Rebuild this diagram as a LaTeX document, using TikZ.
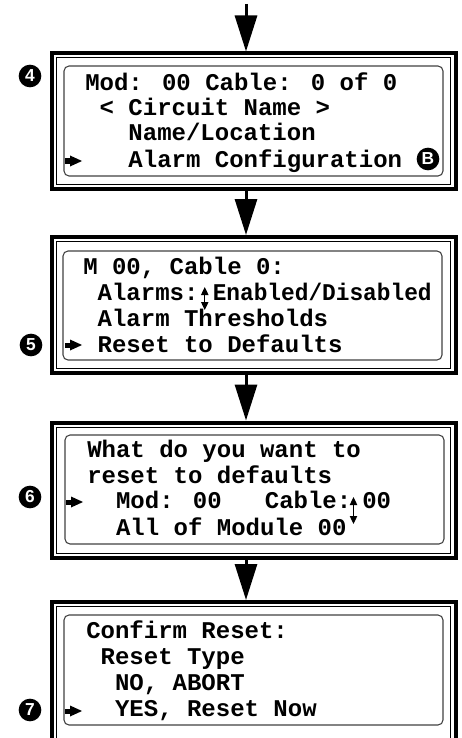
\documentclass[tikz,border=0pt]{standalone}
\usepackage{fontspec}
\newfontfamily\lcdfont{Liberation Mono}
\newfontfamily\badgefont{Liberation Sans}
\usetikzlibrary{arrows.meta,fit}
\tikzset{
  frame/.style={draw, line width=3pt, inner sep=0pt},
  thinframe/.style={draw, line width=0.75pt},
  lcd/.style={draw=black!75, line width=0.8pt, rounded corners=3.75pt},
  flow/.style={line width=2.25pt, -{Triangle[length=27pt,width=16.5pt]}},
  updown/.style={line width=0.9pt, {Triangle[length=6pt,width=5.5pt]}-{Triangle[length=6pt,width=5.5pt]}},
  txt/.style={anchor=base west, inner sep=0pt, font=\lcdfont\bfseries\fontsize{18}{18}\selectfont},
  badge/.style={circle, fill=black, text=white, inner sep=0pt, minimum size=17pt,
    font=\badgefont\bfseries\fontsize{13}{13}\selectfont},
  pointer/.pic={
    \fill (0,-2.5) rectangle (7,2.5);
    \fill (5,-5.5) -- (17,0) -- (5,5.5) -- cycle;
  }
}
\begin{document}
\begin{tikzpicture}[x=0.75pt, y=-0.75pt]
\useasboundingbox (0,0) rectangle (461,738);
\begin{scope}
\clip (0,0) rectangle (461,738);

% frames
\node[frame, fit={(51.5,53.5) (455.5,189)}] (b4) {};
\node[frame, fit={(51.5,237) (455.5,373)}] (b5) {};
\node[frame, fit={(51.5,422.5) (455.5,558)}] (b6) {};
\node[frame, fit={(51.5,602) (455.5,760)}] (b7) {};

\draw[thinframe] (56.5,58) rectangle (450.5,184.5);
\draw[thinframe] (56.5,241.5) rectangle (450.5,368.5);
\draw[thinframe] (56.5,427) rectangle (450.5,553.5);
\draw[thinframe] (56.5,750) |- (450.5,606.5) -- (450.5,750);

\draw[lcd] (64,66) rectangle (443,176);
\draw[lcd] (63,251) rectangle (442,360);
\draw[lcd] (65,435) rectangle (444,544);
\draw[lcd] (64,615) rectangle (443,725);

% connectors
\coordinate (top) at (246,4);
\draw[flow] (top) -- (top |- b4.north);
\draw[flow] (b4.south -| top) -- (b5.north -| top);
\draw[flow] (b5.south -| top) -- (b6.north -| top);
\draw[flow] (b6.south -| top) -- (b7.north -| top);

% badges
\node[badge] (n4) at (30,76) {4};
\node[badge] (n5) at (31,345) {5};
\node[badge] (n6) at (30,497) {6};
\node[badge] (n7) at (30,710) {7};
\node[badge] (nB) at (428,159) {B};

% box 4
\node[txt] (t4a) at (85,91) {Mod: 00 Cable: 0 of 0};
\node[txt] (t4b) at (99.4,116) {< Circuit Name >};
\node[txt] (t4c) at (128.2,141) {Name/Location};
\node[txt] (t4d) at (128.2,167) {Alarm Configuration};
\pic at (65,161) {pointer};

% box 5
\node[txt] (t5a) at (83,274) {M 00, Cable 0:};
\node[txt] (t5b) at (97.4,300) {Alarms:};
\node[txt, transform shape, xscale=0.95] (t5e) at (212.5,300) {Enabled/Disabled};
\node[txt] (t5c) at (97.4,326) {Alarm Thresholds};
\node[txt] (t5d) at (97.4,352) {Reset to Defaults};
\pic at (65,345) {pointer};
\draw[updown] (t5b.base east) ++(6,-13) coordinate (u5a) -- ++(0,23);

% box 6
\node[txt] (t6a) at (87,457) {What do you want to};
\node[txt] (t6b) at (87,483) {reset to defaults};
\node[txt] (t6c) at (115.8,508) {Mod: 00~~~Cable:};
\node[txt] (t6e) at (362,508) {00};
\node[txt] (t6d) at (115.8,535) {All of Module 00};
\pic at (66,502) {pointer};
\draw[updown] (353.5,497) -- (353.5,524);

% box 7
\node[txt] (t7a) at (86,638) {Confirm Reset:};
\node[txt] (t7b) at (100.4,664) {Reset Type};
\node[txt] (t7c) at (114.8,690) {NO, ABORT};
\node[txt] (t7d) at (114.8,716) {YES, Reset Now};
\pic at (65,711) {pointer};
\end{scope}
\end{tikzpicture}
\end{document}
